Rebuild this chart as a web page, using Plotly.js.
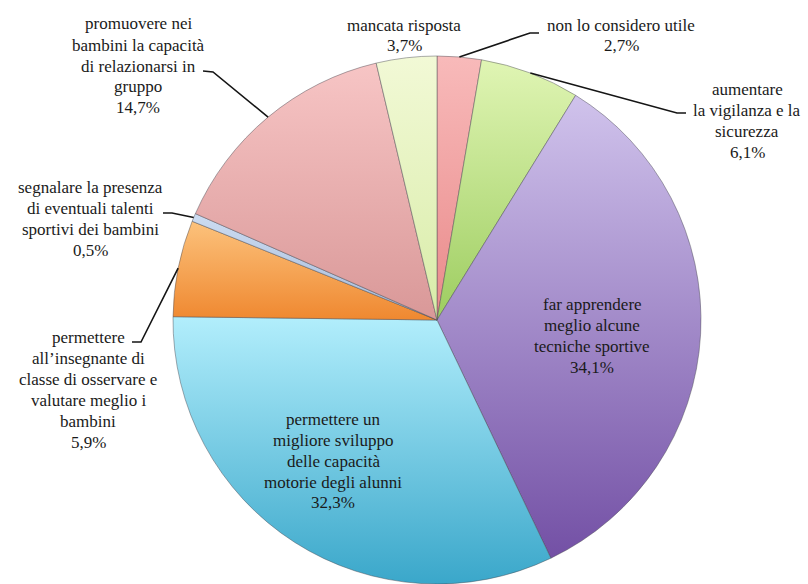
<!DOCTYPE html>
<html>
<head>
<meta charset="utf-8">
<script src="https://cdn.plot.ly/plotly-3.0.1.min.js"></script>
</head>
<body style="margin:0; background:#ffffff">
<div id="chart"></div>
<script>
// ---- data (clockwise from 12 o'clock) ----
const categories = [
  "non lo considero utile",
  "aumentare la vigilanza e la sicurezza",
  "far apprendere meglio alcune tecniche sportive",
  "permettere un migliore sviluppo delle capacità motorie degli alunni",
  "permettere all’insegnante di classe di osservare e valutare meglio i bambini",
  "segnalare la presenza di eventuali talenti sportivi dei bambini",
  "promuovere nei bambini la capacità di relazionarsi in gruppo",
  "mancata risposta"
];
const values = [2.7, 6.1, 34.1, 32.3, 5.9, 0.5, 14.7, 3.7];
const wrappedLabels = [
  "non lo considero utile",
  "aumentare<br>la vigilanza e la<br>sicurezza",
  "far apprendere<br>meglio alcune<br>tecniche sportive",
  "permettere un<br>migliore sviluppo<br>delle capacità<br>motorie degli alunni",
  "permettere<br>all’insegnante di<br>classe di osservare e<br>valutare meglio i<br>bambini",
  "segnalare la presenza<br>di eventuali talenti<br>sportivi dei bambini",
  "promuovere nei<br>bambini la capacità<br>di relazionarsi in<br>gruppo",
  "mancata risposta"
];

// ---- styles / layout ----
const W = 808, H = 584;
const FONT = 'Liberation Serif';
const FONT_SIZE = 17;
const LINE_PX = 21;
const gradTop    = ["#f8baba", "#e0f5b4", "#d0c3ec", "#b2eefc", "#fcc27c", "#ccdcf2", "#f7c5c5", "#f2f9d6"];
const gradBottom = ["#e98a8a", "#9dcd60", "#7350a5", "#3aa7ca", "#ef8830", "#a6bad8", "#d99898", "#d8eca8"];
const midColors  = ["#f2a2a2", "#c2e38c", "#a08ac8", "#74cce6", "#f6a456", "#b8cce4", "#e8aeae", "#e6f4c0"];
// label block centre (px) for each slice
const labelPx = [[621, 35], [747, 121], [592, 336], [333, 461], [88, 390], [90, 219], [138, 66], [404, 35]];
const lineGap = [20, 21, 21, 21, 21, 21, 21, 20];
// leader line start points (px) at the label side; null = no leader line
const leaderPx = [
  [[539, 33], [530, 33]],
  [[686, 113], [677, 113]],
  null,
  null,
  [[132, 342], [141, 342]],
  [[163, 213], [172, 213]],
  [[203, 71], [213, 72]],
  null
];
const domX = [173 / W, 701 / W];
const domY = [0, 1 - 56 / H];

const fmt = v => v.toFixed(1).replace('.', ',') + '%';

// pie geometry derived from domain
const cx = (domX[0] + domX[1]) / 2 * W;
const cy = (1 - (domY[0] + domY[1]) / 2) * H;
const R = Math.min((domX[1] - domX[0]) * W, (domY[1] - domY[0]) * H) / 2;
const total = values.reduce((a, b) => a + b, 0);

const annotations = [];
const shapes = [];
let cum = 0;
values.forEach((v, i) => {
  const midFrac = (cum + v / 2) / total;
  cum += v;
  const ang = midFrac * 2 * Math.PI; // clockwise from top
  const ex = cx + R * Math.sin(ang);
  const ey = cy - R * Math.cos(ang);
  // one annotation per text line (keeps serif font and exact line spacing)
  const lines = wrappedLabels[i].split('<br>').concat([fmt(v)]);
  const n = lines.length;
  lines.forEach((ln, k) => {
    const py = labelPx[i][1] + (k - (n - 1) / 2) * lineGap[i];
    annotations.push({
      xref: 'paper', yref: 'paper',
      x: labelPx[i][0] / W, y: 1 - py / H,
      xanchor: 'center', yanchor: 'middle', align: 'center',
      showarrow: false,
      text: ln,
      font: { family: FONT, size: FONT_SIZE, color: '#1a1a1a' }
    });
  });
  if (leaderPx[i]) {
    const pts = leaderPx[i].concat([[ex, ey]]);
    const d = pts.map((p, k) => (k ? 'L' : 'M') + (p[0] / W).toFixed(5) + ',' + (1 - p[1] / H).toFixed(5)).join(' ');
    shapes.push({
      type: 'path', xref: 'paper', yref: 'paper', path: d,
      line: { color: '#151515', width: 1.6 }
    });
  }
});

const trace = {
  type: 'pie',
  labels: categories,
  values: values,
  sort: false,
  direction: 'clockwise',
  rotation: 0,
  textinfo: 'none',
  hoverinfo: 'label+percent',
  domain: { x: domX, y: domY },
  marker: {
    colors: midColors,
    line: { color: 'rgba(70,70,80,0.45)', width: 1 }
  },
  showlegend: false
};

const layout = {
  width: W, height: H,
  margin: { l: 0, r: 0, t: 0, b: 0 },
  paper_bgcolor: '#ffffff',
  plot_bgcolor: '#ffffff',
  showlegend: false,
  annotations: annotations,
  shapes: shapes
};

Plotly.newPlot('chart', [trace], layout, { displayModeBar: false }).then(gd => {
  // Excel-like vertical gradient fill on each slice
  const svgNS = 'http://www.w3.org/2000/svg';
  const svg = gd.querySelector('svg.main-svg');
  const defs = document.createElementNS(svgNS, 'defs');
  svg.insertBefore(defs, svg.firstChild);
  gradTop.forEach((c, i) => {
    const lg = document.createElementNS(svgNS, 'linearGradient');
    lg.setAttribute('id', 'sliceGrad' + i);
    lg.setAttribute('x1', '0'); lg.setAttribute('y1', '0');
    lg.setAttribute('x2', '0'); lg.setAttribute('y2', '1');
    const s1 = document.createElementNS(svgNS, 'stop');
    s1.setAttribute('offset', '0'); s1.setAttribute('stop-color', c);
    const s2 = document.createElementNS(svgNS, 'stop');
    s2.setAttribute('offset', '1'); s2.setAttribute('stop-color', gradBottom[i]);
    lg.appendChild(s1); lg.appendChild(s2);
    defs.appendChild(lg);
  });
  gd.querySelectorAll('g.slice path.surface').forEach((p, i) => {
    if (i < gradTop.length) p.style.fill = 'url(#sliceGrad' + i + ')';
  });
});
</script>
</body>
</html>
